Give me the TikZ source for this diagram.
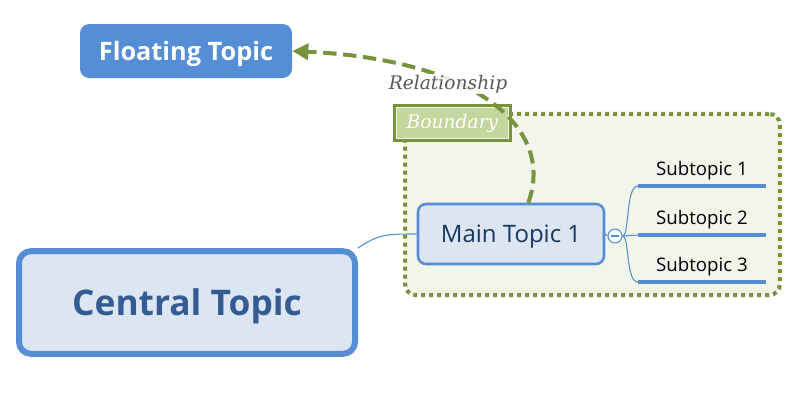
\documentclass[tikz,border=0pt]{standalone}
\usepackage{fontspec}
\setmainfont{Open Sans}
\newfontfamily\serifit{DejaVu Serif}
\usetikzlibrary{arrows.meta,positioning,calc}
\definecolor{topicblue}{RGB}{85,142,213}
\definecolor{topicfill}{RGB}{220,230,242}
\definecolor{centraltext}{RGB}{52,92,146}
\definecolor{maintext}{RGB}{23,55,94}
\definecolor{bndgreen}{RGB}{119,147,60}
\definecolor{bndfill}{RGB}{242,245,234}
\definecolor{bndlabel}{RGB}{195,214,155}
\definecolor{relgray}{RGB}{89,89,89}
\tikzset{
  central/.style={draw=topicblue, line width=4.5pt, rounded corners=9pt, fill=topicfill, text=centraltext, font=\fontsize{26.5}{30}\selectfont\bfseries, text depth=0pt, minimum width=252pt, minimum height=77pt},
  floating/.style={fill=topicblue, rounded corners=7pt, text=white, font=\fontsize{19}{22}\selectfont\bfseries, text depth=0pt, minimum width=159pt, minimum height=40.5pt},
  maintopic/.style={draw=topicblue, line width=1.9pt, rounded corners=6pt, fill=topicfill, text=maintext, font=\fontsize{18}{21}\selectfont, text depth=0pt, minimum width=139.5pt, minimum height=45pt},
  subtopic/.style={anchor=south, inner ysep=4pt, minimum width=96pt, font=\fontsize{14}{17}\selectfont},
  subline/.style={draw=topicblue, line width=3pt},
  boundary/.style={draw=bndgreen, fill=bndfill, line width=3pt, dash pattern=on 3pt off 3pt, rounded corners=8pt, minimum width=281pt, minimum height=136pt},
  bndtag/.style={draw=bndgreen, fill=bndlabel, line width=2.6pt, text=white, font=\serifit\itshape\fontsize{14}{17}\selectfont, minimum width=86pt, minimum height=25.5pt},
  rellabel/.style={fill=white, fill opacity=0.85, text opacity=1, text=relgray, font=\serifit\itshape\fontsize{14}{17}\selectfont, inner sep=1pt},
  relation/.style={draw=bndgreen, line width=3pt, dash pattern=on 10pt off 5pt, -{Triangle[length=12pt,width=12pt]}},
  link/.style={draw=topicblue, line width=0.8pt},
  collapse/.style={circle, draw=topicblue, fill=white, line width=0.8pt, minimum size=10.5pt, inner sep=0pt}
}
\begin{document}
\begin{tikzpicture}[x=0.75pt, y=-0.75pt]
  \useasboundingbox (0,0) rectangle (800,400);
  % boundary with its tag
  \node[boundary] (bnd) at (592.5,204.5) {};
  \node[bndtag] (tag) at (452.5,123) {Boundary};
  \draw[white!75!bndlabel, line width=0.5pt] ($(tag.south west)+(3,-3)$) rectangle ($(tag.north east)+(-3,3)$);

  % topics
  \node[central] (ct) at (187,302.5) {Central Topic};
  \node[floating] (ft) at (186,51) {Floating Topic};
  \node[maintopic] (mt) at (511,234) {Main Topic 1};
  \node[collapse] (col) at (615,236) {};
  \draw[topicblue, line width=0.8pt] ($(col.center)+(-4,0)$) -- ($(col.center)+(4,0)$);

  \node[subtopic] (s1) at (702,186) {Subtopic 1};
  \node[subtopic] (s2) at (702,235) {Subtopic 2};
  \node[subtopic] (s3) at (702,282) {Subtopic 3};
  \foreach \s in {s1,s2,s3}
    \draw[subline] (\s.south west) -- (\s.south east);

  % connectors
  \draw[link] (ct.north east) .. controls +(20,-14) and +(-30,0) .. (mt.west);
  \draw[link] (mt.east) -- (col.west);
  \draw[link] (col.east) -- (s2.south west);
  \draw[link] (col.east) .. controls +(7,0) and +(-12,0) .. (s1.south west);
  \draw[link] (col.east) .. controls +(7,0) and +(-12,0) .. (s3.south west);

  % relationship
  \draw[relation] (mt.north east) ++(-77,0) coordinate (rs)
    .. controls (555,130) and (480,60) .. (ft.east);
  \node[rellabel] (rl) at (448,84) {Relationship};
\end{tikzpicture}
\end{document}
